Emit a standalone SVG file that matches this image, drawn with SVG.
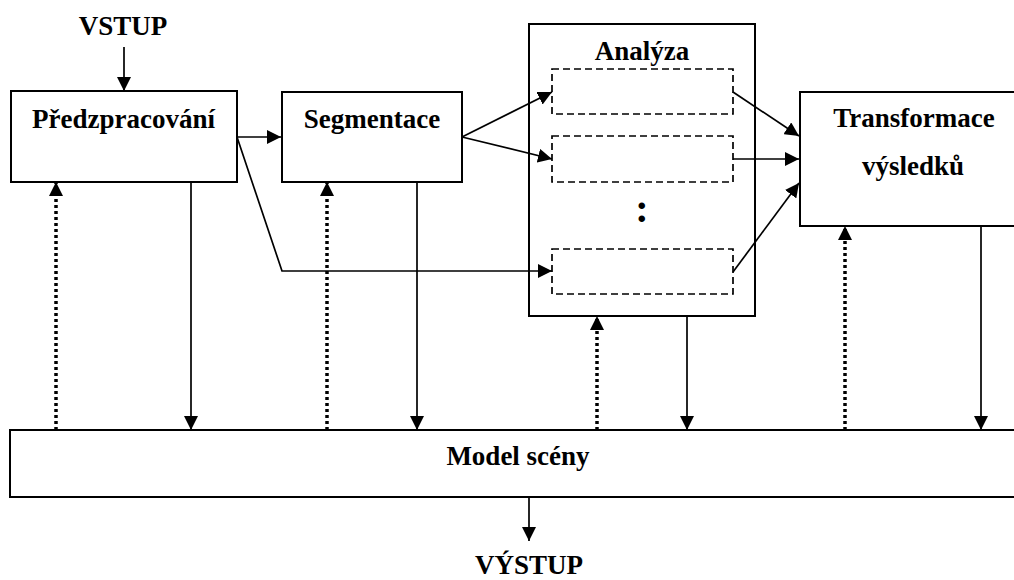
<svg xmlns="http://www.w3.org/2000/svg" width="1014" height="580" viewBox="0 0 1014 580">
<defs>
<marker id="ah" markerUnits="userSpaceOnUse" markerWidth="14" markerHeight="14" refX="14" refY="7" orient="auto" viewBox="0 0 14 14">
<path d="M0,0 L14,7 L0,14 z" fill="#000"/>
</marker>
</defs>
<style>
.box{fill:#fff;stroke:#000;stroke-width:2}
.dbox{fill:none;stroke:#000;stroke-width:1.7;stroke-dasharray:7 4}
.ln{fill:none;stroke:#000;stroke-width:1.7}
.dot{fill:none;stroke:#000;stroke-width:3.5;stroke-dasharray:3 3}
.t{font-family:"Liberation Serif","Times New Roman",serif;font-weight:bold;font-size:27px;fill:#000;text-anchor:middle}
</style>
<rect width="1014" height="580" fill="#fff"/>
<g id="connectors">
<line class="ln" x1="124" y1="47" x2="124" y2="91" marker-end="url(#ah)"/>
<line class="ln" x1="237" y1="137" x2="281" y2="137" marker-end="url(#ah)"/>
<polyline class="ln" points="237,137 282,271 552,271" marker-end="url(#ah)"/>
<line class="ln" x1="462" y1="137" x2="552" y2="92" marker-end="url(#ah)"/>
<line class="ln" x1="462" y1="137" x2="552" y2="159" marker-end="url(#ah)"/>
<line class="ln" x1="733" y1="92" x2="799" y2="136" marker-end="url(#ah)"/>
<line class="ln" x1="733" y1="159" x2="799" y2="159" marker-end="url(#ah)"/>
<line class="ln" x1="733" y1="272" x2="799" y2="183" marker-end="url(#ah)"/>
<line class="ln" x1="191" y1="182" x2="191" y2="430" marker-end="url(#ah)"/>
<line class="ln" x1="417" y1="182" x2="417" y2="430" marker-end="url(#ah)"/>
<line class="ln" x1="687" y1="316" x2="687" y2="430" marker-end="url(#ah)"/>
<line class="ln" x1="981" y1="226" x2="981" y2="430" marker-end="url(#ah)"/>
<line class="dot" x1="56" y1="430" x2="56" y2="182" marker-end="url(#ah)"/>
<line class="dot" x1="327" y1="430" x2="327" y2="182" marker-end="url(#ah)"/>
<line class="dot" x1="597" y1="430" x2="597" y2="316" marker-end="url(#ah)"/>
<line class="dot" x1="845" y1="430" x2="845" y2="226" marker-end="url(#ah)"/>
<line class="ln" x1="529" y1="497" x2="529" y2="541" marker-end="url(#ah)"/>
</g>
<g id="vstup"><text class="t" x="123" y="35">VSTUP</text></g>
<g id="predzpracovani">
<rect class="box" x="11" y="91" width="226" height="91"/>
<text class="t" x="123.5" y="128">Předzpracování</text>
</g>
<g id="segmentace">
<rect class="box" x="282" y="92" width="180" height="90"/>
<text class="t" x="372" y="128">Segmentace</text>
</g>
<g id="analyza">
<rect class="box" x="529" y="24" width="226" height="292" style="fill:none"/>
<text class="t" x="642" y="60">Analýza</text>
<rect class="dbox" x="552" y="69" width="181" height="45"/>
<rect class="dbox" x="552" y="136" width="181" height="46"/>
<rect class="dbox" x="552" y="249" width="181" height="45"/>
<text class="t" x="642" y="222" style="font-size:40px">:</text>
</g>
<g id="transformace">
<rect class="box" x="800" y="92" width="230" height="134"/>
<text class="t" x="914" y="127">Transformace</text>
<text class="t" x="913" y="175">výsledků</text>
</g>
<g id="model">
<rect class="box" x="10" y="430" width="1020" height="67"/>
<text class="t" x="518" y="465">Model scény</text>
</g>
<g id="vystup"><text class="t" x="529" y="574">VÝSTUP</text></g>
</svg>
